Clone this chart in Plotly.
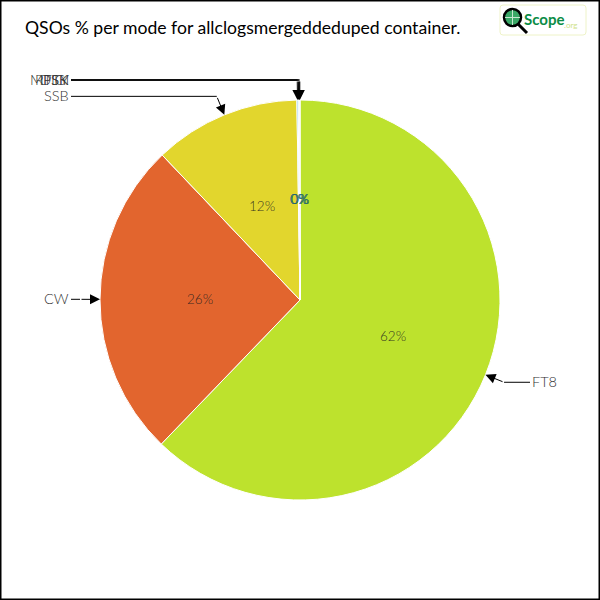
import math
import plotly.graph_objects as go

modes = ["FT8", "CW", "SSB", "RTTY", "PSK", "MFSK", "DIGI"]
shares = [62.2, 25.7, 11.85, 0.1, 0.07, 0.05, 0.03]
slice_colors = ["#bde22d", "#e2652e", "#e2d62d", "#2d9ae2", "#2de2a0", "#2d5ce2", "#a02de2"]
percent_text = ["62%", "26%", "12%", "0%", "0%", "0%", "0%"]
title_text = "QSOs % per mode for allclogsmergeddeduped container."

FONT = "Lato"
CX, CY, R = 300, 300, 200
total = sum(shares)

fig = go.Figure()
fig.add_trace(go.Pie(
    labels=modes, values=shares, sort=False, direction="clockwise", rotation=0,
    marker=dict(colors=slice_colors, line=dict(color="white", width=1)),
    textinfo="none", hoverinfo="label+percent", showlegend=False,
    domain=dict(x=[(CX - R) / 600, (CX + R) / 600], y=[(CY - R) / 600, (CY + R) / 600]),
))

annotations = []
cum = 0
for name, v, pct in zip(modes, shares, percent_text):
    a = 2 * math.pi * (cum + v / 2) / total
    cum += v
    s, c = math.sin(a), math.cos(a)
    tip = (CX + R * s, CY - R * c)
    elbow = (CX + 1.1 * R * s, CY - 1.1 * R * c)
    right = s > 0.02
    end_x = 530 if right else 71
    fig.add_trace(go.Scatter(x=[end_x, elbow[0]], y=[elbow[1], elbow[1]], mode="lines",
                             line=dict(color="black", width=1),
                             hoverinfo="skip", showlegend=False))
    annotations.append(dict(x=tip[0], y=tip[1], ax=elbow[0], ay=elbow[1], xref="x", yref="y",
                            axref="x", ayref="y", text="", showarrow=True, arrowhead=2,
                            arrowsize=2.0, arrowwidth=1, arrowcolor="black", standoff=0))
    annotations.append(dict(x=end_x, y=elbow[1] - 1, xref="x", yref="y",
                            text=name, showarrow=False, xanchor="left" if right else "right",
                            yanchor="middle",
                            font=dict(family=FONT, size=14.5, weight=300, color="#333333")))
    annotations.append(dict(x=CX + 0.5 * R * s, y=CY - 0.5 * R * c - 1, xref="x", yref="y", text=pct,
                            showarrow=False, xanchor="center", yanchor="middle",
                            font=dict(family=FONT, size=13.5, weight=300,
                                      color="#1f6470" if pct == "0%" else "rgba(30,30,30,0.9)")))

annotations.append(dict(x=23, y=27, xref="x", yref="y", text=title_text, showarrow=False,
                        xanchor="left", yanchor="middle",
                        font=dict(family=FONT, size=17.6, color="black")))
annotations.append(dict(x=522, y=19, xref="x", yref="y", text="Scope", showarrow=False,
                        xanchor="left", yanchor="middle",
                        font=dict(family=FONT, size=15, weight=700, color="#0b8c45")))
annotations.append(dict(x=562, y=25, xref="x", yref="y", text=".org", showarrow=False,
                        xanchor="left", yanchor="middle",
                        font=dict(family=FONT, size=8, color="#cfe28a")))

logo_box = ("M 503 5 L 583 5 Q 586 5 586 8 L 586 32 Q 586 35 583 35 "
            "L 503 35 Q 500 35 500 32 L 500 8 Q 500 5 503 5 Z")
shapes = [
    dict(type="rect", xref="paper", yref="paper", x0=0, x1=1, y0=0, y1=1,
         line=dict(color="black", width=3), fillcolor="rgba(0,0,0,0)"),
    dict(type="path", xref="x", yref="y", path=logo_box,
         line=dict(color="#eef3c8", width=1), fillcolor="white"),
    dict(type="line", xref="x", yref="y", x0=518, y0=24, x1=527, y1=33,
         line=dict(color="black", width=3)),
    dict(type="circle", xref="x", yref="y", x0=504, x1=521, y0=9, y1=26,
         line=dict(color="black", width=2.5), fillcolor="#3aa866"),
    dict(type="line", xref="x", yref="y", x0=512.5, y0=10, x1=512.5, y1=25,
         line=dict(color="#c8e8d0", width=1)),
    dict(type="line", xref="x", yref="y", x0=505, y0=17.5, x1=520, y1=17.5,
         line=dict(color="#c8e8d0", width=1)),
]

fig.update_layout(
    width=600, height=600, margin=dict(l=0, r=0, t=0, b=0),
    paper_bgcolor="white", plot_bgcolor="rgba(0,0,0,0)",
    xaxis=dict(range=[0, 600], visible=False, fixedrange=True),
    yaxis=dict(range=[600, 0], visible=False, fixedrange=True),
    annotations=annotations, shapes=shapes,
)
fig.write_html("out.html", post_script="document.body.style.margin='0';",
               config=dict(displayModeBar=False))
